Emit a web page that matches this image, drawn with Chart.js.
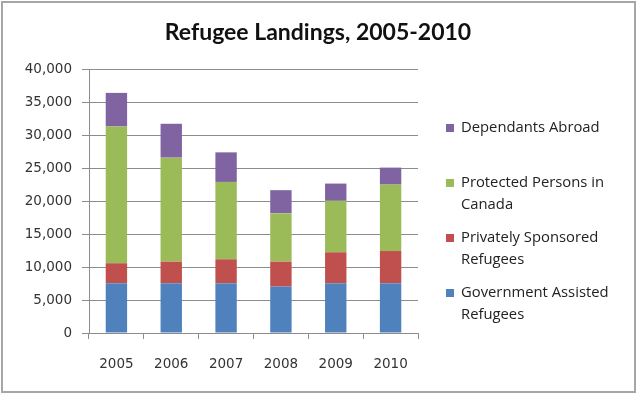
<!DOCTYPE html>
<html>
<head>
<meta charset="utf-8">
<script src="https://cdn.jsdelivr.net/npm/chart.js@4.4.0/dist/chart.umd.min.js"></script>
<style>
  html, body { margin: 0; padding: 0; background: #fff; }
  #wrap { width: 640px; height: 395px; }
</style>
</head>
<body>
<div id="wrap"><canvas id="chart" width="640" height="395"></canvas></div>
<script>
// data
const years = ['2005', '2006', '2007', '2008', '2009', '2010'];
const governmentAssisted = [7550, 7550, 7550, 7040, 7550, 7550];
const privatelySponsored = [3020, 3270, 3620, 3780, 4680, 4870];
const protectedPersons = [20720, 15750, 11720, 7340, 7790, 10070];
const dependantsAbroad = [5090, 5130, 4480, 3480, 2620, 2570];

const seriesNames = [
    ['Government Assisted', 'Refugees'],
    ['Privately Sponsored', 'Refugees'],
    ['Protected Persons in', 'Canada'],
    ['Dependants Abroad']
];
const seriesColors = ['#4F81BD', '#C0504D', '#9BBB59', '#8064A2'];
const titleText = 'Refugee Landings, 2005-2010';

const titleFont = '"Lato", "Open Sans", sans-serif';
const legendFont = '"Open Sans", "Lato", sans-serif';
const tickFont = '"DejaVu Sans", Verdana, sans-serif';

// frame, title and the wrapped legend on the right
const decor = {
    id: 'decor',
    beforeDraw(chart) {
        const ctx = chart.ctx;
        ctx.save();
        ctx.fillStyle = '#fff';
        ctx.fillRect(0, 0, chart.width, chart.height);
        ctx.strokeStyle = '#a6a6a6';
        ctx.lineWidth = 2;
        ctx.strokeRect(2, 2, 633, 390);
        ctx.restore();
    },
    afterDraw(chart) {
        const ctx = chart.ctx;
        ctx.save();
        ctx.fillStyle = '#111';
        ctx.font = 'bold 23px ' + titleFont;
        ctx.textAlign = 'center';
        ctx.textBaseline = 'alphabetic';
        ctx.fillText(titleText, 318, 40);

        ctx.font = '14.8px ' + legendFont;
        ctx.textAlign = 'left';
        ctx.textBaseline = 'middle';
        const ds = chart.data.datasets;
        for (let k = 0; k < ds.length; k++) {
            const i = ds.length - 1 - k;
            const y = 128 + k * 55;
            ctx.fillStyle = ds[i].backgroundColor;
            ctx.fillRect(446, y - 4, 8, 8);
            ctx.fillStyle = '#222';
            ds[i].legendLines.forEach((t, j) => ctx.fillText(t, 461, y + j * 21.5));
        }
        ctx.restore();
    }
};

const series = [governmentAssisted, privatelySponsored, protectedPersons, dependantsAbroad];

new Chart(document.getElementById('chart'), {
    type: 'bar',
    data: {
        labels: years,
        datasets: series.map((vals, i) => ({
            label: seriesNames[i].join(' '),
            legendLines: seriesNames[i],
            data: vals,
            backgroundColor: seriesColors[i],
            borderWidth: 0,
            barPercentage: 0.39,
            categoryPercentage: 1
        }))
    },
    options: {
        responsive: false,
        animation: false,
        layout: { padding: { top: 69, right: 222, bottom: 0, left: 0 } },
        plugins: {
            legend: { display: false },
            title: { display: false },
            tooltip: { enabled: false }
        },
        scales: {
            x: {
                stacked: true,
                afterFit: s => { s.height = 62; },
                grid: { drawOnChartArea: false, drawTicks: true, tickLength: 6, color: '#8c8c8c', offset: true },
                border: { color: '#8c8c8c' },
                ticks: { color: '#333', font: { family: tickFont, size: 13.5 }, padding: 17 }
            },
            y: {
                stacked: true,
                min: 0,
                max: 40000,
                afterFit: s => { s.width = 89; },
                grid: { color: '#8c8c8c', tickLength: 7 },
                border: { color: '#8c8c8c' },
                ticks: {
                    stepSize: 5000,
                    color: '#333',
                    padding: 10,
                    font: { family: tickFont, size: 13.5 },
                    callback: v => v.toLocaleString('en-US')
                }
            }
        }
    },
    plugins: [decor]
});
</script>
</body>
</html>
